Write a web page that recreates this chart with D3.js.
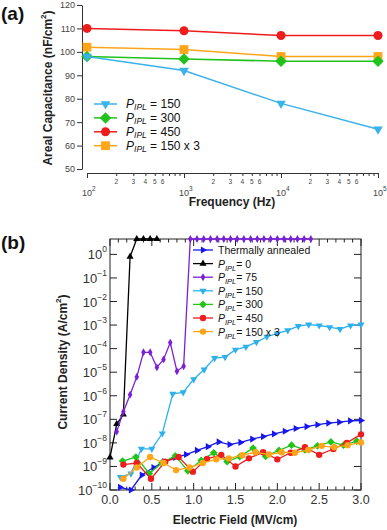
<!DOCTYPE html>
<html>
<head>
<meta charset="utf-8">
<script src="https://cdn.jsdelivr.net/npm/d3@7"></script>
<style>
  body { margin: 0; background: #fff; }
  svg { display: block; font-family: "Liberation Sans", Arial, sans-serif; }
</style>
</head>
<body>
<div id="chart"></div>
<script>
// ---------- (a) areal capacitance vs frequency ----------
var freqs = [1e2, 1e3, 1e4, 1e5];
var cap150 = [98, 92, 78, 67];
var cap300 = [98, 97, 96, 96];
var cap450 = [110, 109, 107, 107];
var cap150x3 = [102, 101, 98, 98];
var capTicks = [50, 60, 70, 80, 90, 100, 110, 120];
var freqMajor = [1e2, 1e3, 1e4, 1e5];
var freqMinorLabels = [2, 3, 4, 5, 6];

// ---------- (b) current density vs electric field ----------
var eAnneal = [0.12,0.25,0.38,0.52,0.65,0.78,0.91,1.04,1.17,1.30,1.43,1.56,1.70,1.83,1.96,2.09,2.22,2.35,2.48,2.61,2.74,2.87,3.00];
var jAnneal = [1.3e-10,1.0e-10,4.3e-10,9e-10,1.6e-9,2.4e-9,3.2e-9,4.8e-9,6.9e-9,1.1e-8,8.5e-9,1.05e-8,1.45e-8,1.85e-8,2.4e-8,3.1e-8,4.1e-8,4.9e-8,5.9e-8,6.9e-8,7.6e-8,8.6e-8,8.9e-8];

var e0 = [0, 0.08, 0.16, 0.24, 0.32, 0.40, 0.48, 0.56];
var j0 = [2.4e-9, 6.3e-8, 1.6e-7, 0.8, 4.5, 4.5, 4.5, 4.5];

var e75 = [0.08,0.16,0.24,0.32,0.40,0.48,0.56,0.64,0.72,0.80,0.88,0.96,1.04,1.12,1.20,1.28,1.36,1.44,1.52,1.60,1.68,1.76,1.84,1.92,2.00,2.08,2.16,2.24,2.32,2.40];
var j75 = [3e-8,2.1e-7,1.1e-6,6.3e-6,7e-5,7e-5,1.6e-5,3.5e-5,1.8e-4,1.1e-5,1.8e-5,
           4.5,4.5,4.5,4.5,4.5,4.5,4.5,4.5,4.5,4.5,4.5,4.5,4.5,4.5,4.5,4.5,4.5,4.5,4.5];

var e150 = [0.125,0.25,0.375,0.5,0.625,0.75,0.875,1.0,1.125,1.25,1.375,1.5,1.625,1.75,1.875,2.0,2.125,2.25,2.375,2.5,2.625,2.75,2.875,3.0];
var j150 = [3.5e-10,5e-10,5.6e-9,5.6e-9,2.5e-8,1.2e-6,1.4e-6,5e-6,1.3e-5,4e-5,4.4e-5,9e-5,1.2e-4,1.9e-4,3.2e-4,4.4e-4,6e-4,9e-4,1.05e-3,9.6e-4,8.1e-4,6.8e-4,9.6e-4,1.05e-3];

var e300 = [0.15,0.31,0.47,0.62,0.78,0.93,1.09,1.24,1.40,1.55,1.71,1.86,2.02,2.17,2.33,2.48,2.64,2.79,2.95];
var j300 = [1.7e-9,2.5e-9,5e-10,1.4e-9,2.8e-9,6.5e-10,1.8e-9,3.8e-9,1.6e-9,2.6e-9,6e-9,2.7e-9,4.8e-9,8e-9,5e-9,7.5e-9,1.1e-8,8e-9,1.2e-8];

var e450 = [0.16,0.32,0.49,0.66,0.82,0.99,1.16,1.33,1.50,1.66,1.83,2.00,2.16,2.33,2.50,2.67,2.83,3.00];
var j450 = [1.2e-9,1.4e-9,3e-10,1.6e-9,2.5e-9,6e-10,2.1e-9,3.1e-9,1e-9,2.2e-9,4e-9,2e-9,3.8e-9,6.5e-9,3.1e-9,5.5e-9,1e-8,2.3e-8];

var e150x3 = [0.16,0.32,0.48,0.64,0.79,0.95,1.11,1.27,1.42,1.58,1.74,1.90,2.05,2.21,2.37,2.53,2.68,2.84,3.00];
var j150x3 = [3e-10,9e-10,2.5e-9,1.4e-9,7e-10,9e-10,1.4e-9,2e-9,2.2e-9,3e-9,4e-9,3.2e-9,4e-9,3.8e-9,5e-9,7.5e-9,6.5e-9,8e-9,1.05e-8];

var fieldTicks = [0, 0.5, 1.0, 1.5, 2.0, 2.5, 3.0];
var fieldTickLabels = ["0.0", "0.5", "1.0", "1.5", "2.0", "2.5", "3.0"];
var decadeExps = [-10, -9, -8, -7, -6, -5, -4, -3, -2, -1, 0];

var W = 387, H = 530;
var svg = d3.select("#chart").append("svg").attr("width", W).attr("height", H);
svg.append("rect").attr("width", W).attr("height", H).attr("fill", "#fff");

// marker helper
function marks(g, xs, ys, xs_, ys_, color, type, size, rot) {
  g.append("g").selectAll("path")
    .data(d3.zip(xs, ys))
    .join("path")
      .attr("d", d3.symbol(type, size))
      .attr("transform", function(d) { return "translate(" + xs_(d[0]) + "," + ys_(d[1]) + ") rotate(" + rot + ")"; })
      .attr("fill", color);
}
function curve(g, xs, ys, xs_, ys_, color, w) {
  g.append("path")
    .datum(d3.zip(xs, ys))
    .attr("fill", "none").attr("stroke", color).attr("stroke-width", w)
    .attr("d", d3.line().x(function(d) { return xs_(d[0]); }).y(function(d) { return ys_(d[1]); }));
}
function pLabel(t, rest, subFs, shift) {
  t.append("tspan").attr("font-style", "italic").text("P");
  t.append("tspan").attr("font-style", "italic").attr("font-size", subFs).attr("dy", shift).text("IPL");
  t.append("tspan").attr("dy", -shift).text(rest);
}

// ======================= panel (a) =======================
var xa = d3.scaleLog().domain([1e2, 1e5]).range([87, 378]);
var ya = d3.scaleLinear().domain([50, 120]).range([169, 5]);
var ga = svg.append("g");

var la = ga.append("g").attr("transform", "translate(82,0)")
  .call(d3.axisLeft(ya).tickValues(capTicks).tickSize(5).tickSizeOuter(0).tickPadding(2));
la.selectAll("text").attr("font-size", 9).attr("fill", "#444").attr("font-family", "Liberation Sans, Arial");
la.selectAll("line, path").attr("stroke", "#333");

var ba = ga.append("g").attr("transform", "translate(0,173)")
  .call(d3.axisBottom(xa).tickValues(xa.ticks()).tickSize(3).tickSizeOuter(0).tickFormat(""));
ba.selectAll("line, path").attr("stroke", "#333");
ba.selectAll(".tick line").filter(function(d) { return freqMajor.indexOf(d) >= 0; }).attr("y2", 5);

// minor labels 2..6
freqMajor.slice(0, 3).forEach(function(m) {
  ga.append("g").selectAll("text").data(freqMinorLabels).join("text")
    .attr("x", function(d) { return xa(m * d); }).attr("y", 184)
    .attr("text-anchor", "middle").attr("font-size", 6.5).attr("fill", "#444")
    .text(function(d) { return d; });
});
var fm = ga.append("g").selectAll("text").data(freqMajor).join("text")
  .attr("x", function(d) { return xa(d) - 5; }).attr("y", 196)
  .attr("font-size", 9).attr("fill", "#444");
fm.append("tspan").text("10");
fm.append("tspan").attr("dy", -5).attr("font-size", 6.5).text(function(d) { return Math.round(Math.log10(d)); });

ga.append("text").attr("x", 232).attr("y", 206).attr("text-anchor", "middle")
  .attr("font-size", 12).attr("font-weight", "bold").attr("fill", "#222").text("Frequency (Hz)");
var yt = ga.append("text").attr("transform", "translate(52,88) rotate(-90)").attr("text-anchor", "middle")
  .attr("font-size", 12).attr("font-weight", "bold").attr("fill", "#222");
yt.append("tspan").text("Areal Capacitance (nF/cm");
yt.append("tspan").attr("dy", -6).attr("font-size", 8).text("2");
yt.append("tspan").attr("dy", 6).text(")");

svg.append("text").attr("x", 1).attr("y", 20).attr("font-size", 19).attr("font-weight", "bold").attr("fill", "#111").text("(a)");

var seriesA = [
  { v: cap450, c: "#ee1c1c", t: d3.symbolCircle, s: 64, r: 0 },
  { v: cap150x3, c: "#ffa51a", t: d3.symbolSquare, s: 78, r: 0 },
  { v: cap300, c: "#22c21c", t: d3.symbolSquare, s: 66, r: 45 },
  { v: cap150, c: "#3ab2ea", t: d3.symbolTriangle, s: 40, r: 180 }
];
seriesA.forEach(function(s) {
  curve(ga, freqs, s.v, xa, ya, s.c, 1.5);
  marks(ga, freqs, s.v, xa, ya, s.c, s.t, s.s, s.r);
});

var legA = [
  { l: " = 150", c: "#3ab2ea", t: d3.symbolTriangle, s: 40, r: 180 },
  { l: " = 300", c: "#22c21c", t: d3.symbolSquare, s: 66, r: 45 },
  { l: " = 450", c: "#ee1c1c", t: d3.symbolCircle, s: 64, r: 0 },
  { l: " = 150 x 3", c: "#ffa51a", t: d3.symbolSquare, s: 78, r: 0 }
];
legA.forEach(function(e, i) {
  var y = 104 + i * 13.9;
  ga.append("line").attr("x1", 94).attr("x2", 117).attr("y1", y).attr("y2", y).attr("stroke", e.c).attr("stroke-width", 1.5);
  ga.append("path").attr("d", d3.symbol(e.t, e.s)).attr("fill", e.c)
    .attr("transform", "translate(105.5," + y + ") rotate(" + e.r + ")");
  var t = ga.append("text").attr("x", 126).attr("y", y + 4.3).attr("font-size", 12).attr("fill", "#111");
  pLabel(t, e.l, 8.5, 1.5);
});

// ======================= panel (b) =======================
var xb = d3.scaleLinear().domain([0, 3]).range([110, 361]);
var yb = d3.scaleLog().domain([1e-10, 4.5]).range([490, 239]);
var gb = svg.append("g");

gb.append("rect").attr("x", 110).attr("y", 239).attr("width", 251).attr("height", 251)
  .attr("fill", "none").attr("stroke", "#222").attr("stroke-width", 1);

var fieldMinor = d3.range(0, 31).map(function(i) { return i / 10; });
[["bottom", 490, 1], ["top", 239, -1]].forEach(function(a) {
  gb.append("g").selectAll("line").data(fieldMinor).join("line")
    .attr("x1", function(d) { return xb(d); }).attr("x2", function(d) { return xb(d); })
    .attr("y1", a[1])
    .attr("y2", function(d, i) { return a[1] - a[2] * (i % 5 === 0 ? 7 : 3.5); })
    .attr("stroke", "#222");
});
var decades = decadeExps.map(function(e) { return Math.pow(10, e); });
[[110, 1], [361, -1]].forEach(function(a) {
  gb.append("g").selectAll("line").data(decades).join("line")
    .attr("x1", a[0]).attr("x2", a[0] + a[1] * 7)
    .attr("y1", function(d) { return yb(d); }).attr("y2", function(d) { return yb(d); })
    .attr("stroke", "#222");
});

gb.append("g").selectAll("text").data(fieldTicks).join("text")
  .attr("x", function(d) { return xb(d); }).attr("y", 504)
  .attr("text-anchor", "middle").attr("font-size", 12.5).attr("fill", "#333")
  .text(function(d, i) { return fieldTickLabels[i]; });

var yl = gb.append("g").selectAll("text").data(decadeExps).join("text")
  .attr("x", 107).attr("y", function(d) { return yb(Math.pow(10, d)) + 5; })
  .attr("text-anchor", "end").attr("font-size", 13).attr("fill", "#333");
yl.append("tspan").text("10");
yl.append("tspan").attr("dy", -7).attr("font-size", 8.5)
  .text(function(d) { return d < 0 ? "\u2212" + (-d) : d; });

gb.append("text").attr("x", 235).attr("y", 524).attr("text-anchor", "middle")
  .attr("font-size", 12).attr("font-weight", "bold").attr("fill", "#222").text("Electric Field (MV/cm)");
var ybt = gb.append("text").attr("transform", "translate(67,362) rotate(-90)").attr("text-anchor", "middle")
  .attr("font-size", 12).attr("font-weight", "bold").attr("fill", "#222");
ybt.append("tspan").text("Current Density (A/cm");
ybt.append("tspan").attr("dy", -6).attr("font-size", 8).text("2");
ybt.append("tspan").attr("dy", 6).text(")");

svg.append("text").attr("x", 1).attr("y", 249).attr("font-size", 19).attr("font-weight", "bold").attr("fill", "#111").text("(b)");

var seriesB = [
  { x: eAnneal, y: jAnneal, c: "#1616ee", t: d3.symbolTriangle, s: 22, r: 90, l: "Thermally annealed" },
  { x: e0, y: j0, c: "#000000", t: d3.symbolTriangle, s: 22, r: 0, l: "= 0" },
  { x: e75, y: j75, c: "#7b1fd8", t: d3.symbolDiamond, s: 18, r: 0, l: "= 75" },
  { x: e150, y: j150, c: "#2eb0ec", t: d3.symbolTriangle, s: 22, r: 180, l: "= 150" },
  { x: e300, y: j300, c: "#22c41a", t: d3.symbolSquare, s: 30, r: 45, l: "= 300" },
  { x: e450, y: j450, c: "#ee1c1c", t: d3.symbolCircle, s: 32, r: 0, l: "= 450" },
  { x: e150x3, y: j150x3, c: "#ffa51a", t: d3.symbolCircle, s: 32, r: 0, l: "= 150 x 3" }
];
seriesB.forEach(function(s) {
  curve(gb, s.x, s.y, xb, yb, s.c, 1.3);
  marks(gb, s.x, s.y, xb, yb, s.c, s.t, s.s, s.r);
});

seriesB.forEach(function(s, i) {
  var y = 250 + i * 13.6;
  gb.append("line").attr("x1", 193).attr("x2", 213).attr("y1", y).attr("y2", y).attr("stroke", s.c).attr("stroke-width", 1.3);
  gb.append("path").attr("d", d3.symbol(s.t, s.s)).attr("fill", s.c)
    .attr("transform", "translate(203," + y + ") rotate(" + s.r + ")");
  var t = gb.append("text").attr("x", 218).attr("y", y + 4).attr("font-size", 10.5).attr("fill", "#111");
  if (i === 0) t.text(s.l);
  else pLabel(t, s.l, 7.5, 3);
});
</script>
</body>
</html>
